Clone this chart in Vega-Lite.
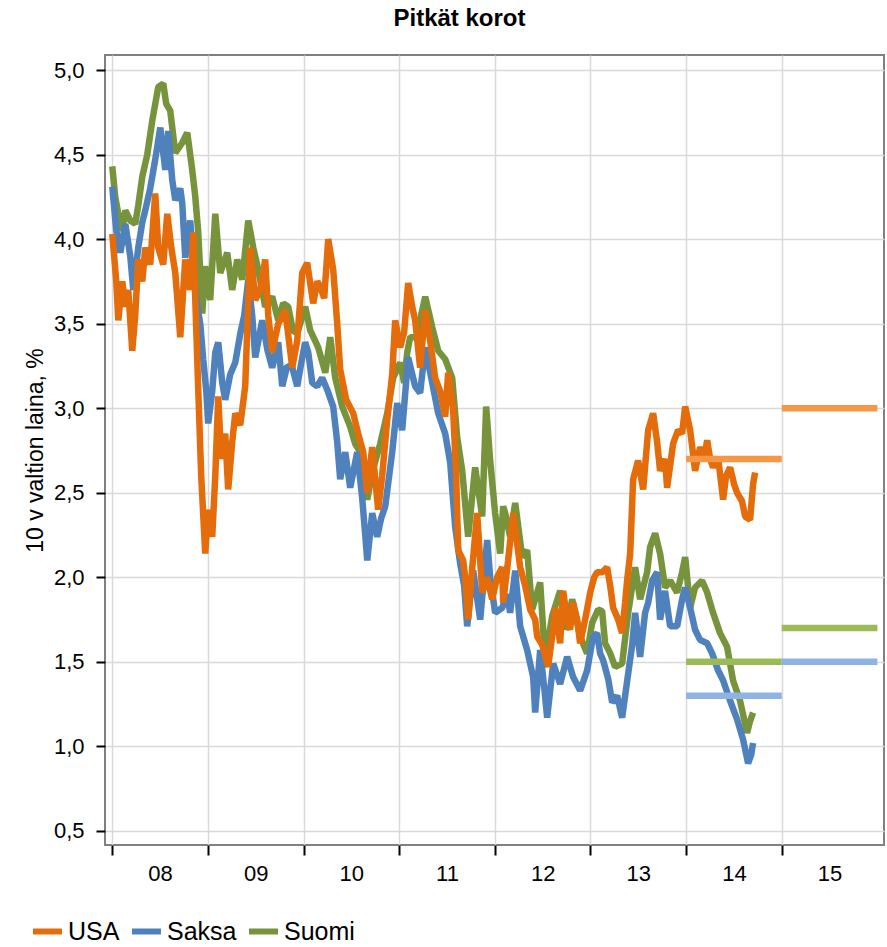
{
"$schema": "https://vega.github.io/schema/vega-lite/v6.json",
"autosize": {"type": "none"},
"width": 779, "height": 790,
"padding": {"left": 105, "top": 55, "right": 3, "bottom": 102},
"background": "white",
"config": {
  "font": "Liberation Sans",
  "view": {"stroke": "#808080", "strokeWidth": 2},
  "axis": {"gridColor": "#d9d9d9", "gridWidth": 1.5, "domain": false, "tickColor": "#000000", "tickWidth": 2, "labelColor": "#000000", "labelFont": "Liberation Sans", "titleFont": "Liberation Sans", "titleColor": "#000000"}
},
"title": {"text": "Pitkät korot", "fontSize": 24, "fontWeight": "bold", "font": "Liberation Sans", "color": "#000000", "anchor": "middle", "dx": -35, "offset": 24},
"datasets": {
"lines": [
{"s":"USA","t":2008.000,"v":4.03},{"s":"USA","t":2008.042,"v":3.75},{"s":"USA","t":2008.063,"v":3.52},{"s":"USA","t":2008.105,"v":3.75},{"s":"USA","t":2008.136,"v":3.60},{"s":"USA","t":2008.167,"v":3.70},{"s":"USA","t":2008.209,"v":3.34},{"s":"USA","t":2008.240,"v":3.55},{"s":"USA","t":2008.272,"v":3.88},{"s":"USA","t":2008.314,"v":3.75},{"s":"USA","t":2008.345,"v":3.95},{"s":"USA","t":2008.397,"v":3.85},{"s":"USA","t":2008.449,"v":4.27},{"s":"USA","t":2008.481,"v":3.95},{"s":"USA","t":2008.533,"v":3.85},{"s":"USA","t":2008.575,"v":4.15},{"s":"USA","t":2008.617,"v":3.95},{"s":"USA","t":2008.659,"v":3.80},{"s":"USA","t":2008.711,"v":3.42},{"s":"USA","t":2008.763,"v":3.88},{"s":"USA","t":2008.815,"v":3.70},{"s":"USA","t":2008.847,"v":4.04},{"s":"USA","t":2008.868,"v":3.64},{"s":"USA","t":2008.899,"v":3.11},{"s":"USA","t":2008.930,"v":2.60},{"s":"USA","t":2008.972,"v":2.14},{"s":"USA","t":2009.003,"v":2.40},{"s":"USA","t":2009.045,"v":2.24},{"s":"USA","t":2009.077,"v":2.60},{"s":"USA","t":2009.108,"v":3.07},{"s":"USA","t":2009.139,"v":2.70},{"s":"USA","t":2009.181,"v":2.85},{"s":"USA","t":2009.212,"v":2.52},{"s":"USA","t":2009.254,"v":2.80},{"s":"USA","t":2009.286,"v":2.97},{"s":"USA","t":2009.338,"v":2.90},{"s":"USA","t":2009.390,"v":3.13},{"s":"USA","t":2009.442,"v":3.95},{"s":"USA","t":2009.495,"v":3.64},{"s":"USA","t":2009.547,"v":3.70},{"s":"USA","t":2009.599,"v":3.88},{"s":"USA","t":2009.631,"v":3.55},{"s":"USA","t":2009.672,"v":3.33},{"s":"USA","t":2009.735,"v":3.50},{"s":"USA","t":2009.808,"v":3.58},{"s":"USA","t":2009.882,"v":3.24},{"s":"USA","t":2009.934,"v":3.40},{"s":"USA","t":2009.986,"v":3.80},{"s":"USA","t":2010.038,"v":3.86},{"s":"USA","t":2010.101,"v":3.62},{"s":"USA","t":2010.143,"v":3.75},{"s":"USA","t":2010.174,"v":3.72},{"s":"USA","t":2010.216,"v":3.65},{"s":"USA","t":2010.258,"v":4.00},{"s":"USA","t":2010.310,"v":3.82},{"s":"USA","t":2010.352,"v":3.50},{"s":"USA","t":2010.383,"v":3.23},{"s":"USA","t":2010.446,"v":3.05},{"s":"USA","t":2010.519,"v":2.97},{"s":"USA","t":2010.571,"v":2.85},{"s":"USA","t":2010.624,"v":2.74},{"s":"USA","t":2010.666,"v":2.50},{"s":"USA","t":2010.718,"v":2.77},{"s":"USA","t":2010.780,"v":2.40},{"s":"USA","t":2010.822,"v":2.60},{"s":"USA","t":2010.875,"v":2.93},{"s":"USA","t":2010.927,"v":3.20},{"s":"USA","t":2010.958,"v":3.52},{"s":"USA","t":2011.010,"v":3.36},{"s":"USA","t":2011.052,"v":3.45},{"s":"USA","t":2011.094,"v":3.74},{"s":"USA","t":2011.136,"v":3.60},{"s":"USA","t":2011.167,"v":3.52},{"s":"USA","t":2011.219,"v":3.24},{"s":"USA","t":2011.272,"v":3.58},{"s":"USA","t":2011.324,"v":3.40},{"s":"USA","t":2011.376,"v":3.18},{"s":"USA","t":2011.429,"v":3.10},{"s":"USA","t":2011.481,"v":2.95},{"s":"USA","t":2011.512,"v":3.21},{"s":"USA","t":2011.564,"v":2.99},{"s":"USA","t":2011.596,"v":2.60},{"s":"USA","t":2011.617,"v":2.16},{"s":"USA","t":2011.669,"v":2.10},{"s":"USA","t":2011.690,"v":2.00},{"s":"USA","t":2011.721,"v":1.75},{"s":"USA","t":2011.763,"v":2.05},{"s":"USA","t":2011.815,"v":2.38},{"s":"USA","t":2011.847,"v":2.10},{"s":"USA","t":2011.868,"v":1.91},{"s":"USA","t":2011.920,"v":2.00},{"s":"USA","t":2011.972,"v":1.87},{"s":"USA","t":2012.024,"v":2.00},{"s":"USA","t":2012.077,"v":2.06},{"s":"USA","t":2012.087,"v":1.85},{"s":"USA","t":2012.139,"v":2.10},{"s":"USA","t":2012.192,"v":2.38},{"s":"USA","t":2012.233,"v":2.20},{"s":"USA","t":2012.265,"v":2.06},{"s":"USA","t":2012.317,"v":1.95},{"s":"USA","t":2012.369,"v":1.81},{"s":"USA","t":2012.422,"v":1.75},{"s":"USA","t":2012.443,"v":1.65},{"s":"USA","t":2012.495,"v":1.60},{"s":"USA","t":2012.557,"v":1.47},{"s":"USA","t":2012.599,"v":1.65},{"s":"USA","t":2012.631,"v":1.82},{"s":"USA","t":2012.683,"v":1.61},{"s":"USA","t":2012.714,"v":1.92},{"s":"USA","t":2012.756,"v":1.75},{"s":"USA","t":2012.787,"v":1.69},{"s":"USA","t":2012.819,"v":1.85},{"s":"USA","t":2012.861,"v":1.75},{"s":"USA","t":2012.892,"v":1.61},{"s":"USA","t":2012.944,"v":1.75},{"s":"USA","t":2012.997,"v":1.91},{"s":"USA","t":2013.038,"v":2.00},{"s":"USA","t":2013.070,"v":2.03},{"s":"USA","t":2013.122,"v":2.03},{"s":"USA","t":2013.174,"v":2.06},{"s":"USA","t":2013.206,"v":1.95},{"s":"USA","t":2013.237,"v":1.82},{"s":"USA","t":2013.289,"v":1.75},{"s":"USA","t":2013.331,"v":1.67},{"s":"USA","t":2013.362,"v":1.85},{"s":"USA","t":2013.383,"v":1.98},{"s":"USA","t":2013.415,"v":2.14},{"s":"USA","t":2013.446,"v":2.58},{"s":"USA","t":2013.498,"v":2.69},{"s":"USA","t":2013.551,"v":2.52},{"s":"USA","t":2013.603,"v":2.87},{"s":"USA","t":2013.655,"v":2.97},{"s":"USA","t":2013.697,"v":2.80},{"s":"USA","t":2013.728,"v":2.63},{"s":"USA","t":2013.780,"v":2.70},{"s":"USA","t":2013.801,"v":2.53},{"s":"USA","t":2013.864,"v":2.79},{"s":"USA","t":2013.916,"v":2.87},{"s":"USA","t":2013.958,"v":2.85},{"s":"USA","t":2013.990,"v":3.01},{"s":"USA","t":2014.042,"v":2.87},{"s":"USA","t":2014.094,"v":2.63},{"s":"USA","t":2014.146,"v":2.77},{"s":"USA","t":2014.188,"v":2.70},{"s":"USA","t":2014.220,"v":2.81},{"s":"USA","t":2014.251,"v":2.70},{"s":"USA","t":2014.282,"v":2.65},{"s":"USA","t":2014.334,"v":2.71},{"s":"USA","t":2014.387,"v":2.46},{"s":"USA","t":2014.418,"v":2.60},{"s":"USA","t":2014.460,"v":2.65},{"s":"USA","t":2014.502,"v":2.55},{"s":"USA","t":2014.533,"v":2.50},{"s":"USA","t":2014.585,"v":2.45},{"s":"USA","t":2014.617,"v":2.36},{"s":"USA","t":2014.669,"v":2.34},{"s":"USA","t":2014.700,"v":2.55},{"s":"USA","t":2014.721,"v":2.62},
{"s":"Saksa","t":2008.000,"v":4.31},{"s":"Saksa","t":2008.042,"v":4.05},{"s":"Saksa","t":2008.084,"v":3.92},{"s":"Saksa","t":2008.136,"v":4.09},{"s":"Saksa","t":2008.188,"v":3.90},{"s":"Saksa","t":2008.220,"v":3.70},{"s":"Saksa","t":2008.272,"v":3.95},{"s":"Saksa","t":2008.314,"v":4.10},{"s":"Saksa","t":2008.345,"v":4.17},{"s":"Saksa","t":2008.397,"v":4.30},{"s":"Saksa","t":2008.449,"v":4.47},{"s":"Saksa","t":2008.502,"v":4.66},{"s":"Saksa","t":2008.554,"v":4.41},{"s":"Saksa","t":2008.585,"v":4.64},{"s":"Saksa","t":2008.627,"v":4.35},{"s":"Saksa","t":2008.659,"v":4.23},{"s":"Saksa","t":2008.711,"v":4.30},{"s":"Saksa","t":2008.732,"v":4.21},{"s":"Saksa","t":2008.763,"v":3.89},{"s":"Saksa","t":2008.815,"v":4.11},{"s":"Saksa","t":2008.868,"v":3.68},{"s":"Saksa","t":2008.920,"v":3.50},{"s":"Saksa","t":2008.951,"v":3.29},{"s":"Saksa","t":2008.983,"v":3.10},{"s":"Saksa","t":2009.003,"v":2.91},{"s":"Saksa","t":2009.045,"v":3.10},{"s":"Saksa","t":2009.077,"v":3.33},{"s":"Saksa","t":2009.108,"v":3.39},{"s":"Saksa","t":2009.150,"v":3.15},{"s":"Saksa","t":2009.181,"v":3.05},{"s":"Saksa","t":2009.233,"v":3.20},{"s":"Saksa","t":2009.286,"v":3.27},{"s":"Saksa","t":2009.338,"v":3.44},{"s":"Saksa","t":2009.380,"v":3.55},{"s":"Saksa","t":2009.422,"v":3.76},{"s":"Saksa","t":2009.463,"v":3.55},{"s":"Saksa","t":2009.495,"v":3.30},{"s":"Saksa","t":2009.568,"v":3.52},{"s":"Saksa","t":2009.620,"v":3.35},{"s":"Saksa","t":2009.672,"v":3.24},{"s":"Saksa","t":2009.735,"v":3.39},{"s":"Saksa","t":2009.777,"v":3.13},{"s":"Saksa","t":2009.829,"v":3.25},{"s":"Saksa","t":2009.882,"v":3.24},{"s":"Saksa","t":2009.934,"v":3.13},{"s":"Saksa","t":2009.986,"v":3.30},{"s":"Saksa","t":2010.017,"v":3.39},{"s":"Saksa","t":2010.049,"v":3.33},{"s":"Saksa","t":2010.091,"v":3.15},{"s":"Saksa","t":2010.143,"v":3.13},{"s":"Saksa","t":2010.195,"v":3.18},{"s":"Saksa","t":2010.247,"v":3.11},{"s":"Saksa","t":2010.310,"v":3.01},{"s":"Saksa","t":2010.352,"v":2.80},{"s":"Saksa","t":2010.383,"v":2.58},{"s":"Saksa","t":2010.436,"v":2.74},{"s":"Saksa","t":2010.488,"v":2.53},{"s":"Saksa","t":2010.561,"v":2.74},{"s":"Saksa","t":2010.613,"v":2.47},{"s":"Saksa","t":2010.645,"v":2.25},{"s":"Saksa","t":2010.666,"v":2.10},{"s":"Saksa","t":2010.718,"v":2.38},{"s":"Saksa","t":2010.770,"v":2.24},{"s":"Saksa","t":2010.812,"v":2.35},{"s":"Saksa","t":2010.854,"v":2.42},{"s":"Saksa","t":2010.927,"v":2.74},{"s":"Saksa","t":2010.979,"v":3.03},{"s":"Saksa","t":2011.031,"v":2.87},{"s":"Saksa","t":2011.094,"v":3.30},{"s":"Saksa","t":2011.167,"v":3.13},{"s":"Saksa","t":2011.219,"v":3.09},{"s":"Saksa","t":2011.272,"v":3.36},{"s":"Saksa","t":2011.324,"v":3.21},{"s":"Saksa","t":2011.408,"v":2.97},{"s":"Saksa","t":2011.481,"v":2.85},{"s":"Saksa","t":2011.533,"v":2.68},{"s":"Saksa","t":2011.585,"v":2.30},{"s":"Saksa","t":2011.638,"v":2.08},{"s":"Saksa","t":2011.679,"v":1.95},{"s":"Saksa","t":2011.711,"v":1.71},{"s":"Saksa","t":2011.773,"v":2.04},{"s":"Saksa","t":2011.847,"v":1.75},{"s":"Saksa","t":2011.920,"v":2.22},{"s":"Saksa","t":2011.951,"v":2.00},{"s":"Saksa","t":2012.003,"v":1.79},{"s":"Saksa","t":2012.077,"v":1.82},{"s":"Saksa","t":2012.129,"v":1.90},{"s":"Saksa","t":2012.160,"v":1.79},{"s":"Saksa","t":2012.213,"v":2.04},{"s":"Saksa","t":2012.265,"v":1.71},{"s":"Saksa","t":2012.338,"v":1.57},{"s":"Saksa","t":2012.401,"v":1.41},{"s":"Saksa","t":2012.422,"v":1.20},{"s":"Saksa","t":2012.474,"v":1.57},{"s":"Saksa","t":2012.516,"v":1.35},{"s":"Saksa","t":2012.547,"v":1.17},{"s":"Saksa","t":2012.610,"v":1.49},{"s":"Saksa","t":2012.683,"v":1.37},{"s":"Saksa","t":2012.756,"v":1.53},{"s":"Saksa","t":2012.819,"v":1.41},{"s":"Saksa","t":2012.892,"v":1.33},{"s":"Saksa","t":2012.965,"v":1.45},{"s":"Saksa","t":2013.028,"v":1.65},{"s":"Saksa","t":2013.070,"v":1.67},{"s":"Saksa","t":2013.101,"v":1.55},{"s":"Saksa","t":2013.132,"v":1.51},{"s":"Saksa","t":2013.185,"v":1.40},{"s":"Saksa","t":2013.227,"v":1.26},{"s":"Saksa","t":2013.279,"v":1.30},{"s":"Saksa","t":2013.331,"v":1.17},{"s":"Saksa","t":2013.394,"v":1.43},{"s":"Saksa","t":2013.436,"v":1.60},{"s":"Saksa","t":2013.467,"v":1.79},{"s":"Saksa","t":2013.519,"v":1.53},{"s":"Saksa","t":2013.571,"v":1.79},{"s":"Saksa","t":2013.603,"v":1.85},{"s":"Saksa","t":2013.645,"v":1.98},{"s":"Saksa","t":2013.697,"v":2.03},{"s":"Saksa","t":2013.728,"v":1.75},{"s":"Saksa","t":2013.780,"v":1.92},{"s":"Saksa","t":2013.833,"v":1.71},{"s":"Saksa","t":2013.906,"v":1.71},{"s":"Saksa","t":2013.958,"v":1.87},{"s":"Saksa","t":2013.990,"v":1.94},{"s":"Saksa","t":2014.042,"v":1.82},{"s":"Saksa","t":2014.094,"v":1.69},{"s":"Saksa","t":2014.146,"v":1.63},{"s":"Saksa","t":2014.220,"v":1.61},{"s":"Saksa","t":2014.272,"v":1.55},{"s":"Saksa","t":2014.334,"v":1.45},{"s":"Saksa","t":2014.387,"v":1.39},{"s":"Saksa","t":2014.460,"v":1.27},{"s":"Saksa","t":2014.533,"v":1.16},{"s":"Saksa","t":2014.596,"v":1.04},{"s":"Saksa","t":2014.648,"v":0.90},{"s":"Saksa","t":2014.680,"v":0.95},{"s":"Saksa","t":2014.700,"v":1.02},
{"s":"Suomi","t":2008.000,"v":4.43},{"s":"Suomi","t":2008.031,"v":4.25},{"s":"Suomi","t":2008.063,"v":4.15},{"s":"Suomi","t":2008.105,"v":4.05},{"s":"Suomi","t":2008.136,"v":4.17},{"s":"Suomi","t":2008.188,"v":4.11},{"s":"Suomi","t":2008.240,"v":4.09},{"s":"Suomi","t":2008.272,"v":4.20},{"s":"Suomi","t":2008.314,"v":4.37},{"s":"Suomi","t":2008.366,"v":4.50},{"s":"Suomi","t":2008.418,"v":4.70},{"s":"Suomi","t":2008.481,"v":4.90},{"s":"Suomi","t":2008.533,"v":4.92},{"s":"Suomi","t":2008.564,"v":4.80},{"s":"Suomi","t":2008.606,"v":4.76},{"s":"Suomi","t":2008.659,"v":4.51},{"s":"Suomi","t":2008.732,"v":4.57},{"s":"Suomi","t":2008.784,"v":4.63},{"s":"Suomi","t":2008.836,"v":4.41},{"s":"Suomi","t":2008.868,"v":4.25},{"s":"Suomi","t":2008.899,"v":4.04},{"s":"Suomi","t":2008.941,"v":3.56},{"s":"Suomi","t":2008.972,"v":3.84},{"s":"Suomi","t":2009.024,"v":3.64},{"s":"Suomi","t":2009.077,"v":4.15},{"s":"Suomi","t":2009.129,"v":3.80},{"s":"Suomi","t":2009.202,"v":3.92},{"s":"Suomi","t":2009.254,"v":3.70},{"s":"Suomi","t":2009.307,"v":3.88},{"s":"Suomi","t":2009.359,"v":3.76},{"s":"Suomi","t":2009.422,"v":4.11},{"s":"Suomi","t":2009.474,"v":3.95},{"s":"Suomi","t":2009.526,"v":3.82},{"s":"Suomi","t":2009.599,"v":3.60},{"s":"Suomi","t":2009.672,"v":3.66},{"s":"Suomi","t":2009.735,"v":3.52},{"s":"Suomi","t":2009.787,"v":3.62},{"s":"Suomi","t":2009.840,"v":3.60},{"s":"Suomi","t":2009.892,"v":3.45},{"s":"Suomi","t":2009.944,"v":3.46},{"s":"Suomi","t":2010.017,"v":3.60},{"s":"Suomi","t":2010.070,"v":3.46},{"s":"Suomi","t":2010.153,"v":3.36},{"s":"Suomi","t":2010.227,"v":3.21},{"s":"Suomi","t":2010.279,"v":3.42},{"s":"Suomi","t":2010.331,"v":3.18},{"s":"Suomi","t":2010.404,"v":3.01},{"s":"Suomi","t":2010.488,"v":2.89},{"s":"Suomi","t":2010.540,"v":2.79},{"s":"Suomi","t":2010.592,"v":2.74},{"s":"Suomi","t":2010.634,"v":2.55},{"s":"Suomi","t":2010.666,"v":2.46},{"s":"Suomi","t":2010.718,"v":2.62},{"s":"Suomi","t":2010.801,"v":2.79},{"s":"Suomi","t":2010.875,"v":2.97},{"s":"Suomi","t":2010.937,"v":3.18},{"s":"Suomi","t":2011.010,"v":3.27},{"s":"Suomi","t":2011.052,"v":3.15},{"s":"Suomi","t":2011.084,"v":3.33},{"s":"Suomi","t":2011.115,"v":3.42},{"s":"Suomi","t":2011.188,"v":3.42},{"s":"Suomi","t":2011.230,"v":3.55},{"s":"Suomi","t":2011.272,"v":3.66},{"s":"Suomi","t":2011.345,"v":3.48},{"s":"Suomi","t":2011.408,"v":3.34},{"s":"Suomi","t":2011.481,"v":3.29},{"s":"Suomi","t":2011.554,"v":3.18},{"s":"Suomi","t":2011.606,"v":2.83},{"s":"Suomi","t":2011.659,"v":2.63},{"s":"Suomi","t":2011.721,"v":2.24},{"s":"Suomi","t":2011.794,"v":2.65},{"s":"Suomi","t":2011.868,"v":2.36},{"s":"Suomi","t":2011.909,"v":3.01},{"s":"Suomi","t":2011.951,"v":2.69},{"s":"Suomi","t":2012.003,"v":2.38},{"s":"Suomi","t":2012.056,"v":2.14},{"s":"Suomi","t":2012.087,"v":2.42},{"s":"Suomi","t":2012.108,"v":2.38},{"s":"Suomi","t":2012.160,"v":2.24},{"s":"Suomi","t":2012.213,"v":2.44},{"s":"Suomi","t":2012.286,"v":2.12},{"s":"Suomi","t":2012.338,"v":2.16},{"s":"Suomi","t":2012.390,"v":1.81},{"s":"Suomi","t":2012.474,"v":1.97},{"s":"Suomi","t":2012.526,"v":1.51},{"s":"Suomi","t":2012.599,"v":1.77},{"s":"Suomi","t":2012.683,"v":1.92},{"s":"Suomi","t":2012.756,"v":1.69},{"s":"Suomi","t":2012.808,"v":1.87},{"s":"Suomi","t":2012.892,"v":1.65},{"s":"Suomi","t":2012.965,"v":1.55},{"s":"Suomi","t":2013.017,"v":1.73},{"s":"Suomi","t":2013.080,"v":1.81},{"s":"Suomi","t":2013.122,"v":1.80},{"s":"Suomi","t":2013.153,"v":1.61},{"s":"Suomi","t":2013.206,"v":1.55},{"s":"Suomi","t":2013.258,"v":1.47},{"s":"Suomi","t":2013.331,"v":1.49},{"s":"Suomi","t":2013.394,"v":1.79},{"s":"Suomi","t":2013.467,"v":2.06},{"s":"Suomi","t":2013.519,"v":1.87},{"s":"Suomi","t":2013.592,"v":2.03},{"s":"Suomi","t":2013.624,"v":2.18},{"s":"Suomi","t":2013.676,"v":2.26},{"s":"Suomi","t":2013.728,"v":2.14},{"s":"Suomi","t":2013.780,"v":1.94},{"s":"Suomi","t":2013.833,"v":1.98},{"s":"Suomi","t":2013.906,"v":1.91},{"s":"Suomi","t":2013.958,"v":2.03},{"s":"Suomi","t":2013.990,"v":2.12},{"s":"Suomi","t":2014.042,"v":1.82},{"s":"Suomi","t":2014.094,"v":1.94},{"s":"Suomi","t":2014.167,"v":1.98},{"s":"Suomi","t":2014.220,"v":1.91},{"s":"Suomi","t":2014.282,"v":1.79},{"s":"Suomi","t":2014.355,"v":1.67},{"s":"Suomi","t":2014.428,"v":1.59},{"s":"Suomi","t":2014.491,"v":1.39},{"s":"Suomi","t":2014.564,"v":1.27},{"s":"Suomi","t":2014.637,"v":1.08},{"s":"Suomi","t":2014.669,"v":1.15},{"s":"Suomi","t":2014.700,"v":1.20}
],
"fc": [
{"s":"USA","t1":2014,"t2":2015,"v":2.7},{"s":"USA","t1":2015,"t2":2016,"v":3.0},
{"s":"Saksa","t1":2014,"t2":2015,"v":1.3},{"s":"Saksa","t1":2015,"t2":2016,"v":1.5},
{"s":"Suomi","t1":2014,"t2":2015,"v":1.5},{"s":"Suomi","t1":2015,"t2":2016,"v":1.7}
]
},
"encoding": {
  "x": {"field": "t", "type": "quantitative", "scale": {"domain": [2007.924, 2016.069], "nice": false, "zero": false},
    "axis": {"values": [2008,2009,2010,2011,2012,2013,2014,2015], "labelExpr": "substring(toString(datum.value), 2)", "labelOffset": 47.8, "tickSize": 10, "labelFontSize": 22, "labelPadding": 8, "title": null, "grid": true, "labelFlush": false, "labelOverlap": false, "labelBound": false}},
  "y": {"field": "v", "type": "quantitative", "scale": {"domain": [0.417, 5.089], "nice": false, "zero": false},
    "axis": {"values": [0.5,1,1.5,2,2.5,3,3.5,4,4.5,5], "labelExpr": "replace(format(datum.value, '.1f'), '.', ',')", "tickSize": 9, "labelFontSize": 22, "labelPadding": 12, "title": "10 v valtion laina, %", "titleFontSize": 23, "titleFontWeight": "normal", "titlePadding": 6}}
},
"layer": [
  {"data": {"name": "lines"}, "transform": [{"filter": "datum.s === 'Suomi'"}],
   "mark": {"type": "line", "strokeWidth": 6.5, "strokeJoin": "bevel"},
   "encoding": {"color": {"field": "s", "type": "nominal", "scale": {"domain": ["USA","Saksa","Suomi"], "range": ["#E46C0A","#4F81BD","#77933C"]},
     "legend": {"orient": "none", "legendX": -75, "legendY": 859, "direction": "horizontal", "title": null, "symbolType": "stroke", "symbolSize": 841, "symbolStrokeWidth": 6, "labelFontSize": 25, "labelOffset": 3, "columnPadding": 0, "gridAlign": "none", "labelColor": "#000000", "labelFont": "Liberation Sans"}}}},
  {"data": {"name": "lines"}, "transform": [{"filter": "datum.s === 'Saksa'"}],
   "mark": {"type": "line", "strokeWidth": 6.5, "strokeJoin": "bevel"},
   "encoding": {"color": {"field": "s", "type": "nominal"}}},
  {"data": {"name": "lines"}, "transform": [{"filter": "datum.s === 'USA'"}],
   "mark": {"type": "line", "strokeWidth": 6.5, "strokeJoin": "bevel"},
   "encoding": {"color": {"field": "s", "type": "nominal"}}},
  {"data": {"name": "fc"}, "transform": [{"filter": "datum.s === 'USA'"}],
   "mark": {"type": "rule", "strokeWidth": 6.5, "color": "#F79646", "strokeCap": "butt"},
   "encoding": {"x": {"field": "t1", "type": "quantitative"}, "x2": {"field": "t2"}, "y": {"field": "v", "type": "quantitative"}}},
  {"data": {"name": "fc"}, "transform": [{"filter": "datum.s === 'Saksa'"}],
   "mark": {"type": "rule", "strokeWidth": 6.5, "color": "#8EB4E3", "strokeCap": "butt"},
   "encoding": {"x": {"field": "t1", "type": "quantitative"}, "x2": {"field": "t2"}, "y": {"field": "v", "type": "quantitative"}}},
  {"data": {"name": "fc"}, "transform": [{"filter": "datum.s === 'Suomi'"}],
   "mark": {"type": "rule", "strokeWidth": 6.5, "color": "#9BBB59", "strokeCap": "butt"},
   "encoding": {"x": {"field": "t1", "type": "quantitative"}, "x2": {"field": "t2"}, "y": {"field": "v", "type": "quantitative"}}}
]
}
